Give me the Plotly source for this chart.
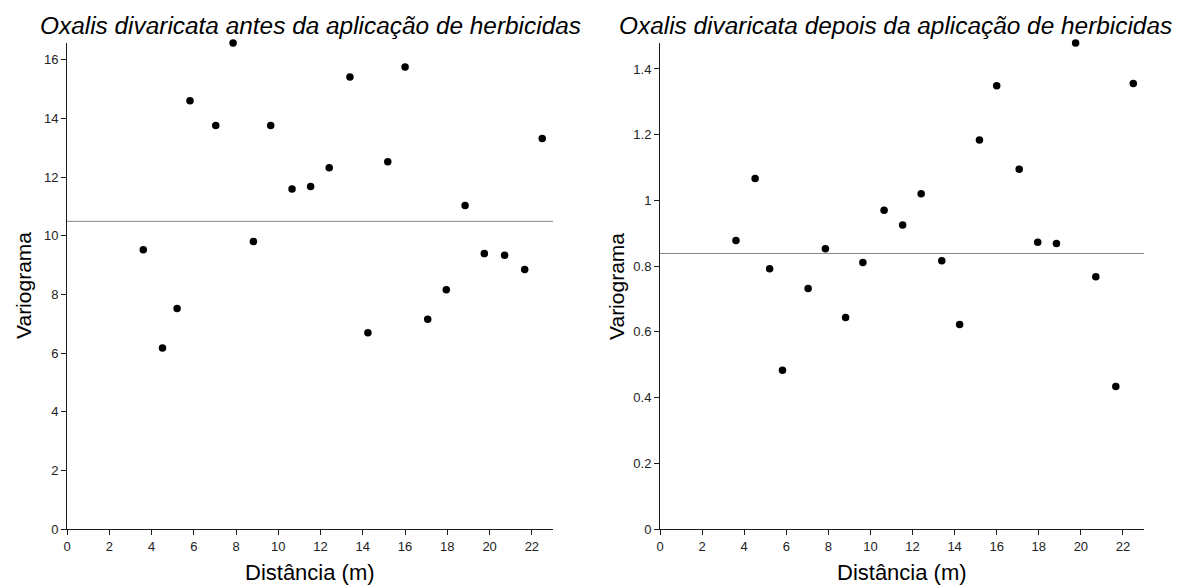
import plotly.graph_objects as go

# Lag distances (m)
lags = [3.61, 4.52, 5.21, 5.82, 7.04, 7.86, 8.82, 9.64, 10.65, 11.53, 12.41, 13.39,
        14.24, 15.18, 16.0, 17.07, 17.95, 18.84, 19.75, 20.71, 21.66, 22.49]

# Semivariance before herbicide application
gamma_before = [9.52, 6.17, 7.52, 14.60, 13.76, 16.57, 9.80, 13.76, 11.59, 11.68, 12.32, 15.41,
                6.69, 12.52, 15.75, 7.15, 8.16, 11.03, 9.39, 9.33, 8.85, 13.31]

# Semivariance after herbicide application
gamma_after = [0.878, 1.067, 0.792, 0.483, 0.732, 0.853, 0.644, 0.811, 0.970, 0.925, 1.020, 0.816,
               0.622, 1.184, 1.349, 1.095, 0.873, 0.869, 1.479, 0.768, 0.434, 1.356]

sill_before = 10.49
sill_after = 0.8385

x_ticks = [0, 2, 4, 6, 8, 10, 12, 14, 16, 18, 20, 22]
y_ticks_before = [0, 2, 4, 6, 8, 10, 12, 14, 16]
y_ticks_after = [0, 0.2, 0.4, 0.6, 0.8, 1, 1.2, 1.4]
y_tick_text_after = ["0", "0.2", "0.4", "0.6", "0.8", "1", "1.2", "1.4"]

titles = ["Oxalis divaricata antes da aplicação de herbicidas",
          "Oxalis divaricata depois da aplicação de herbicidas"]
x_title = "Distância (m)"
y_title = "Variograma"

FONT = "Liberation Sans, Arial, sans-serif"
# page body has an 8px margin, so the figure is drawn 8px in from the window corner
W, H = 1176, 577

fig = go.Figure()

dom_x = [[59 / W, 545 / W], [652 / W, 1136 / W]]
dom_y = [(H - 521) / H, (H - 35) / H]
title_cx = [302 / W, 888 / W]

for i, (g, sill) in enumerate([(gamma_before, sill_before), (gamma_after, sill_after)]):
    xa = "x" if i == 0 else "x2"
    ya = "y" if i == 0 else "y2"
    fig.add_trace(go.Scatter(x=[0, 23], y=[sill, sill], mode="lines",
                             line=dict(color="#858585", width=1),
                             xaxis=xa, yaxis=ya, showlegend=False, hoverinfo="skip"))
    fig.add_trace(go.Scatter(x=lags, y=g, mode="markers",
                             marker=dict(color="black", size=7.5),
                             xaxis=xa, yaxis=ya, showlegend=False, cliponaxis=False))

axis_common = dict(showgrid=False, zeroline=False, showline=True, linecolor="#1a1a1a",
                   linewidth=1, ticks="outside", ticklen=5, tickcolor="#1a1a1a",
                   automargin=False,
                   tickfont=dict(family=FONT, size=13, color="#222222"))

xaxis_common = dict(axis_common, range=[0, 23], tickvals=x_ticks)

fig.update_layout(
    width=W, height=H,
    margin=dict(l=0, r=0, t=0, b=0),
    plot_bgcolor="white", paper_bgcolor="white",
    xaxis=dict(xaxis_common, domain=dom_x[0], anchor="y"),
    xaxis2=dict(xaxis_common, domain=dom_x[1], anchor="y2"),
    yaxis=dict(axis_common, domain=dom_y, anchor="x", range=[0, max(gamma_before)],
               tickvals=y_ticks_before),
    yaxis2=dict(axis_common, domain=dom_y, anchor="x2", range=[0, max(gamma_after)],
                tickvals=y_ticks_after, ticktext=y_tick_text_after),
)

for i, t in enumerate(titles):
    cx = (dom_x[i][0] + dom_x[i][1]) / 2
    fig.add_annotation(text="<i>" + t + "</i>", xref="paper", yref="paper",
                       x=title_cx[i], y=1 - 18 / H,
                       xanchor="center", yanchor="middle", showarrow=False,
                       font=dict(family=FONT, size=24.4, color="black"))
    fig.add_annotation(text=x_title, xref="paper", yref="paper",
                       x=cx, y=1 - 564 / H,
                       xanchor="center", yanchor="middle", showarrow=False,
                       font=dict(family=FONT, size=22, color="black"))
    fig.add_annotation(text=y_title, xref="paper", yref="paper",
                       x=dom_x[i][0] - 44 / W, y=(dom_y[0] + dom_y[1]) / 2,
                       xanchor="center", yanchor="middle", textangle=-90, showarrow=False,
                       font=dict(family=FONT, size=21, color="black"))

fig.write_html("out.html")
